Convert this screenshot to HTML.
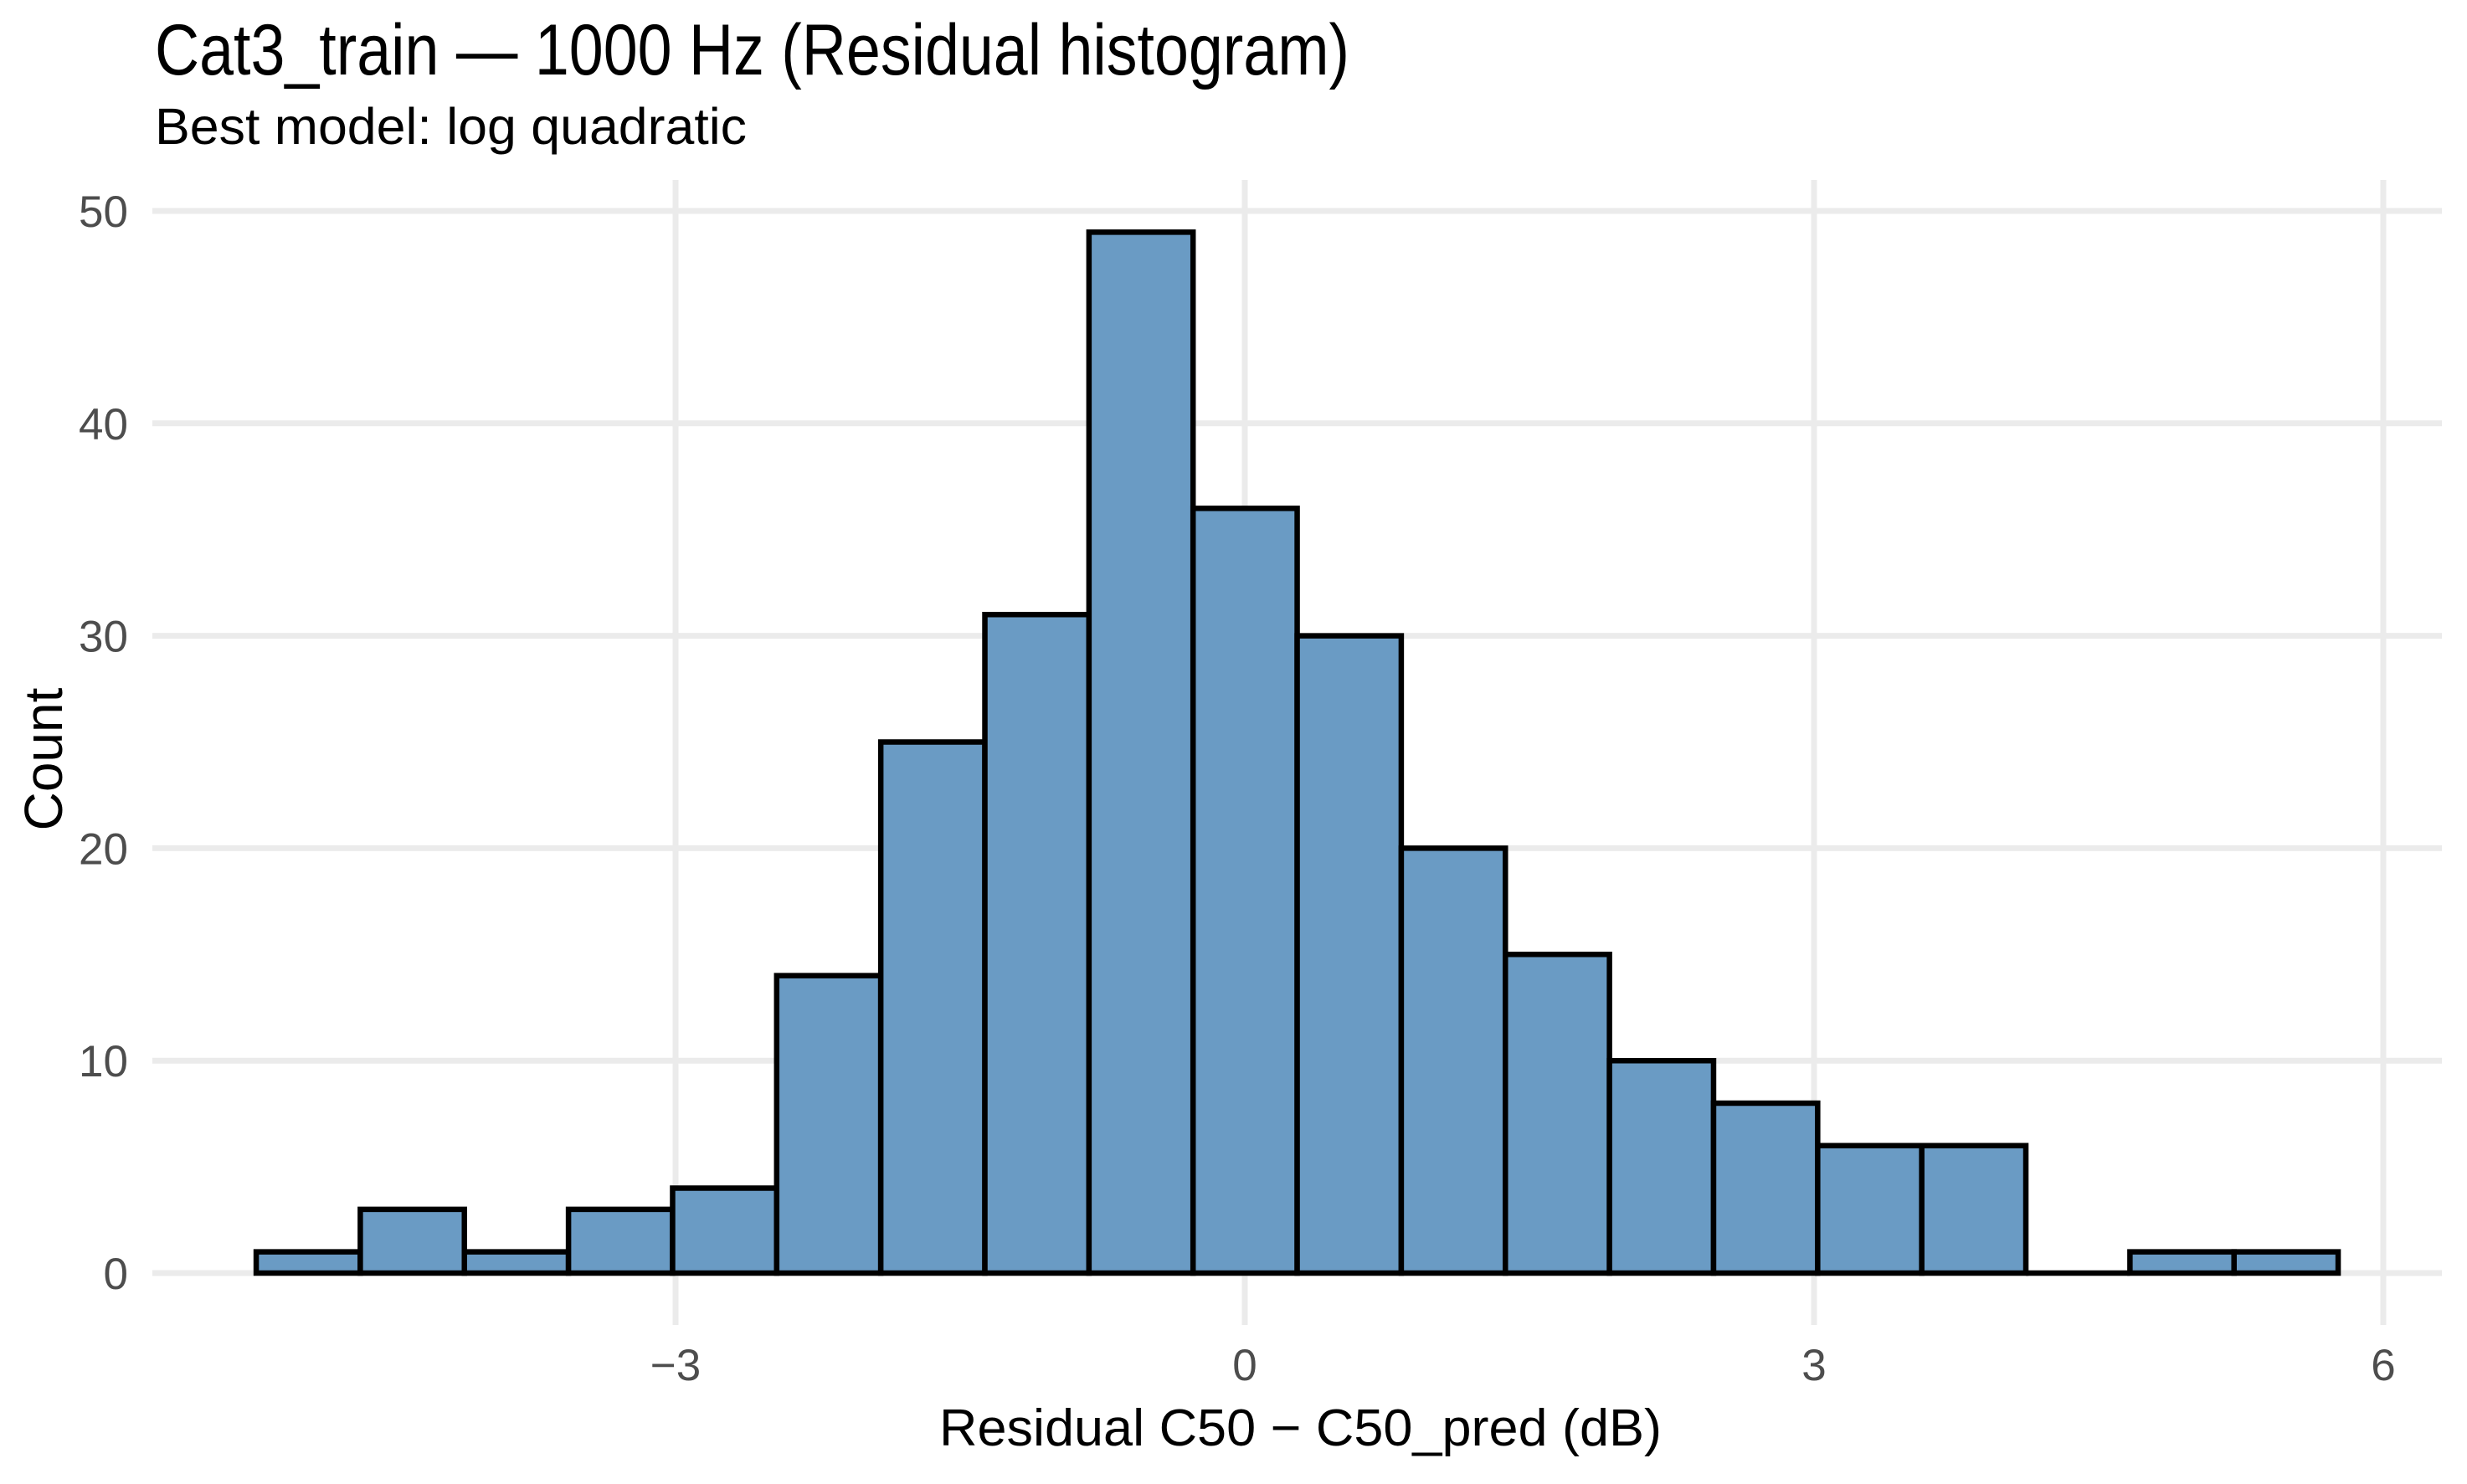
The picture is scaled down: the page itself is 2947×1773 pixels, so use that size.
<!DOCTYPE html>
<html><head><meta charset="utf-8"><style>
html,body{margin:0;padding:0;background:#fff;}
svg{display:block;font-family:"Liberation Sans",Arial,sans-serif;}
</style></head><body>
<svg id="chart" width="2947" height="1773" viewBox="0 0 2947 1773" xmlns="http://www.w3.org/2000/svg">
<rect width="2947" height="1773" fill="#fff"/>
<text x="185" y="89" font-size="86" fill="#000" textLength="1427" lengthAdjust="spacingAndGlyphs">Cat3_train — 1000 Hz (Residual histogram)</text>
<text x="185" y="172" font-size="61" fill="#000" textLength="707" lengthAdjust="spacingAndGlyphs">Best model: log quadratic</text>
<g id="grid"></g>
<g id="bars"></g>
<g id="yticks"></g>
<g id="xticks"></g>
<text x="1122" y="1727" font-size="62" fill="#000" textLength="863" lengthAdjust="spacingAndGlyphs">Residual C50 − C50_pred (dB)</text>
<text transform="translate(74,907) rotate(-90)" font-size="64" text-anchor="middle" fill="#000">Count</text>
</svg>
<script>
const binStart = -5.21;
const binWidth = 0.5486;
const counts = [1,3,1,3,4,14,25,31,49,36,30,20,15,10,8,6,6,0,1,1];
const yTicks = [0,10,20,30,40,50];
const xTicks = [-3,0,3,6];
const xTickLabels = ["\u22123","0","3","6"];

const NS = "http://www.w3.org/2000/svg";
const px0 = 182, px1 = 2917, py0 = 215, py1 = 1583;
function xs(v){ return 1487 + v * 226.67; }
function ys(v){ return 1521 - v * 25.38; }
function mk(tag, attrs, parent){
  const e = document.createElementNS(NS, tag);
  for (const k in attrs) e.setAttribute(k, attrs[k]);
  parent.appendChild(e);
  return e;
}
const grid = document.getElementById('grid');
yTicks.forEach(t => {
  const l = mk('line', {x1:px0, x2:px1, y1:ys(t), y2:ys(t), stroke:'#ebebeb', 'stroke-width':7}, grid);
  
  
});
xTicks.forEach(t => {
  const l = mk('line', {x1:xs(t), x2:xs(t), y1:py0, y2:py1, stroke:'#ebebeb', 'stroke-width':7}, grid);
  
  
});
const bars = document.getElementById('bars');
counts.forEach((c, i) => {
  const x0 = xs(binStart + i * binWidth), x1 = xs(binStart + (i + 1) * binWidth);
  const yb = ys(0), yt = ys(c);
  const p = mk('path', {d:`M${x0},${yb} L${x0},${yt} L${x1},${yt} L${x1},${yb} Z`, fill:'#6a9bc4', stroke:'#000', 'stroke-width':6.5, 'stroke-linejoin':'miter'}, bars);
  
  
});
const yt = document.getElementById('yticks');
yTicks.forEach(t => {
  const e = mk('text', {x:153, y:ys(t) + 19, 'font-size':53, 'text-anchor':'end', fill:'#4d4d4d'}, yt);
  e.textContent = String(t);
  
  
});
const xt = document.getElementById('xticks');
xTicks.forEach((t, i) => {
  const e = mk('text', {x:xs(t), y:1649, 'font-size':53, 'text-anchor':'middle', fill:'#4d4d4d'}, xt);
  e.textContent = xTickLabels[i];
  
  
});
</script>
</body></html>
